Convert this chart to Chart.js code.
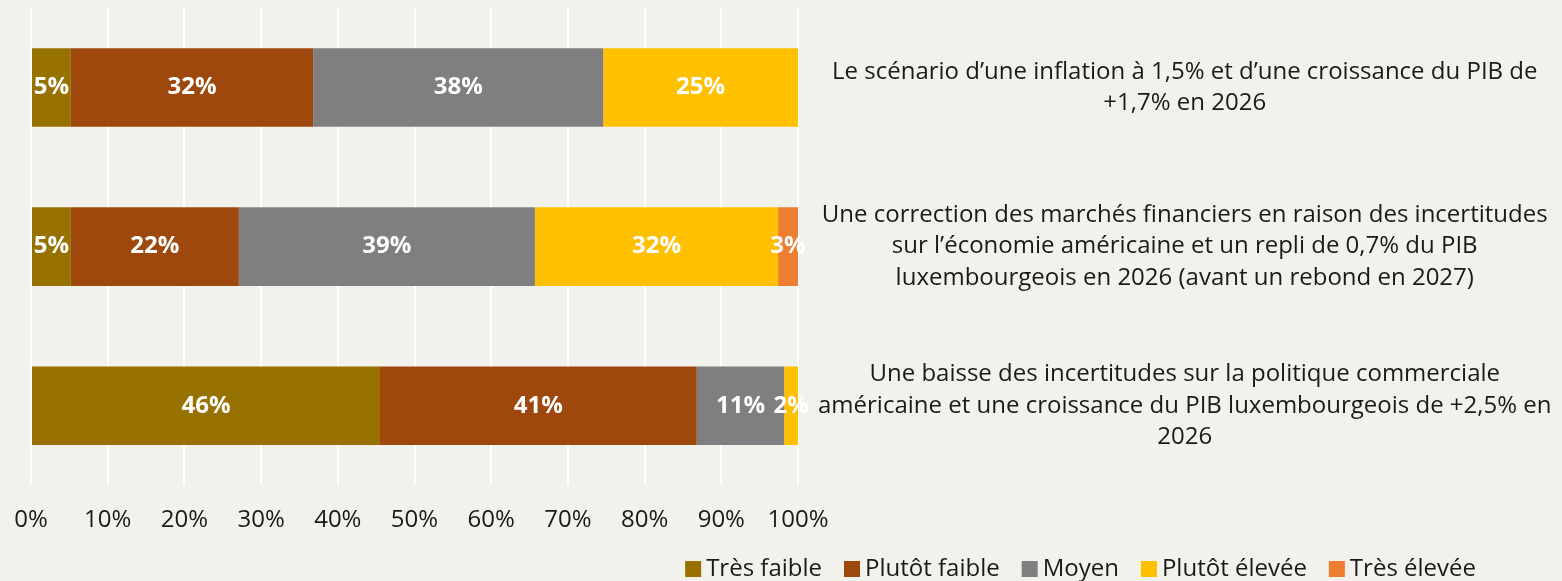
<!DOCTYPE html>
<html>
<head>
<meta charset="utf-8">
<script src="https://cdn.jsdelivr.net/npm/chart.js@4.4.0/dist/chart.umd.min.js"></script>
<style>
  html, body { margin: 0; padding: 0; background: #f2f1ec; }
  #wrap { width: 1562px; height: 581px; }
</style>
</head>
<body>
<div id="wrap"><canvas id="scenariChart"></canvas></div>
<script>
// Dati (percentuali)
var categorie = [
  ['Le scénario d\u2019une inflation à 1,5% et d\u2019une croissance du PIB de', '+1,7% en 2026'],
  ['Une correction des marchés financiers en raison des incertitudes', 'sur l\u2019économie américaine et un repli de 0,7% du PIB', 'luxembourgeois en 2026 (avant un rebond en 2027)'],
  ['Une baisse des incertitudes sur la politique commerciale', 'américaine et une croissance du PIB luxembourgeois de +2,5% en', '2026']
];
var tresFaible = [5.2, 5.2, 45.5];
var plutotFaible = [31.6, 21.9, 41.3];
var moyen = [37.8, 38.6, 11.4];
var plutotElevee = [25.4, 31.7, 1.8];
var tresElevee = [0, 2.6, 0];
var serieNomi = ['Très faible', 'Plutôt faible', 'Moyen', 'Plutôt élevée', 'Très élevée'];
var colori = ['#977200', '#9e480e', '#7f7f7f', '#ffc000', '#ed7d31'];
var tickX = [0, 10, 20, 30, 40, 50, 60, 70, 80, 90, 100];

var FONT = '"Open Sans", "Noto Sans", sans-serif';

// Etichette bianche al centro di ogni segmento
var etichettePlugin = {
  id: 'etichette',
  afterDatasetsDraw: function(chart) {
    var ctx = chart.ctx;
    ctx.save();
    ctx.fillStyle = '#ffffff';
    ctx.font = 'bold 24px ' + FONT;
    ctx.textAlign = 'center';
    ctx.textBaseline = 'middle';
    chart.data.datasets.forEach(function(ds, i) {
      var meta = chart.getDatasetMeta(i);
      meta.data.forEach(function(bar, j) {
        var v = ds.data[j];
        if (!v) return;
        ctx.fillText(Math.round(v) + '%', (bar.x + bar.base) / 2, bar.y);
      });
    });
    ctx.restore();
  }
};

// Legenda disegnata a mano, allineata a destra
var legendaPlugin = {
  id: 'legenda',
  afterDraw: function(chart) {
    var ctx = chart.ctx;
    ctx.save();
    ctx.font = '24px ' + FONT;
    ctx.textBaseline = 'middle';
    var box = 16, gap = 5, spazio = 22;
    var tot = 0;
    serieNomi.forEach(function(n, i) {
      tot += box + gap + ctx.measureText(n).width + (i < serieNomi.length - 1 ? spazio : 0);
    });
    var x = 1476 - tot, y = 568;
    serieNomi.forEach(function(n, i) {
      ctx.fillStyle = colori[i];
      ctx.fillRect(x, y - 7, box, box);
      x += box + gap;
      ctx.fillStyle = '#1a1a1a';
      ctx.fillText(n, x, y + 1);
      x += ctx.measureText(n).width + spazio;
    });
    ctx.restore();
  }
};

var datasets = [tresFaible, plutotFaible, moyen, plutotElevee, tresElevee].map(function(d, i) {
  return {
    label: serieNomi[i],
    data: d,
    backgroundColor: colori[i],
    borderWidth: 0,
    categoryPercentage: 0.494,
    barPercentage: 1
  };
});

new Chart(document.getElementById('scenariChart'), {
  type: 'bar',
  data: { labels: categorie, datasets: datasets },
  options: {
    indexAxis: 'y',
    responsive: true,
    maintainAspectRatio: false,
    animation: false,
    layout: { padding: { left: 31, top: 8, right: 0, bottom: 25 } },
    plugins: {
      legend: { display: false },
      tooltip: { enabled: false }
    },
    scales: {
      x: {
        stacked: true,
        min: 0,
        max: 100,
        afterBuildTicks: function(scale) {
          scale.ticks = tickX.map(function(v) { return { value: v }; });
        },
        afterFit: function(scale) {
          scale.paddingLeft = 0;
          scale.paddingRight = 0;
        },
        grid: { color: '#ffffff', lineWidth: 2, drawTicks: false },
        border: { display: false },
        ticks: {
          padding: 21,
          color: '#1a1a1a',
          font: { family: FONT, size: 24 },
          callback: function(v) { return v + '%'; }
        }
      },
      y: {
        stacked: true,
        position: 'right',
        grid: { display: false, drawTicks: false },
        border: { display: false },
        afterFit: function(scale) {
          scale.width = 764;
          scale.paddingTop = 0;
          scale.paddingBottom = 0;
        },
        ticks: {
          crossAlign: 'center',
          padding: 20,
          color: '#1a1a1a',
          font: { family: FONT, size: 24, lineHeight: 1.3 }
        }
      }
    }
  },
  plugins: [etichettePlugin, legendaPlugin]
});
</script>
</body>
</html>
